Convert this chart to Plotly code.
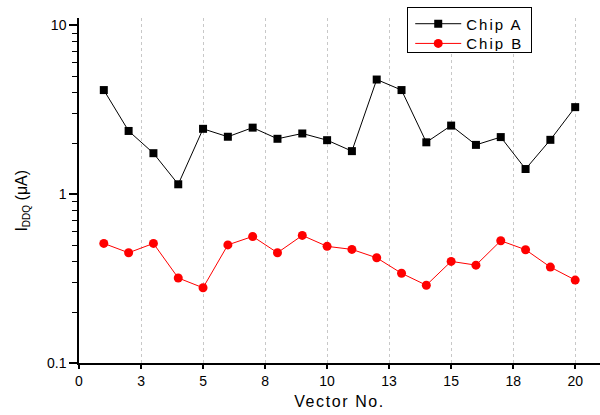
import plotly.graph_objects as go

vectors = list(range(1, 21))
chip_a = [4.14, 2.37, 1.75, 1.145, 2.44, 2.19, 2.48, 2.13, 2.29, 2.09,
          1.80, 4.78, 4.14, 2.03, 2.55, 1.96, 2.18, 1.41, 2.10, 3.28]
chip_b = [0.511, 0.450, 0.511, 0.319, 0.279, 0.501, 0.562, 0.450, 0.570, 0.491,
          0.471, 0.420, 0.340, 0.289, 0.400, 0.380, 0.530, 0.469, 0.370, 0.310]

x_tickvals = [0, 2.5, 5, 7.5, 10, 12.5, 15, 17.5, 20]
x_ticktext = ["0", "3", "5", "8", "10", "13", "15", "18", "20"]
y_tickvals = [0.1, 1, 10]
y_ticktext = ["0.1", "1", "10"]

font = "Liberation Sans, Arial, sans-serif"

fig = go.Figure()
fig.add_trace(go.Scatter(
    x=vectors, y=chip_a, name="Chip A", mode="lines+markers",
    line=dict(color="black", width=1),
    marker=dict(symbol="square", size=8, color="black"),
))
fig.add_trace(go.Scatter(
    x=vectors, y=chip_b, name="Chip B", mode="lines+markers",
    line=dict(color="#ff0000", width=1),
    marker=dict(symbol="circle", size=9, color="#ff0000"),
))

fig.add_annotation(
    text="I<sub><span style='font-size:10px'>DDQ</span></sub> (μA)",
    xref="paper", yref="paper", x=-0.108, y=0.47,
    xanchor="center", yanchor="middle", textangle=-90,
    showarrow=False, font=dict(size=16),
)

fig.update_layout(
    width=600, height=415,
    margin=dict(l=79, r=0, t=18, b=52),
    paper_bgcolor="white", plot_bgcolor="white",
    font=dict(family=font, size=14, color="black"),
    legend=dict(
        x=0.63, y=1.032, xanchor="left", yanchor="top",
        bordercolor="black", borderwidth=1, bgcolor="white",
        font=dict(size=15), tracegroupgap=0, itemwidth=48,
    ),
    xaxis=dict(
        range=[0, 21], tickmode="array", tickvals=x_tickvals, ticktext=x_ticktext,
        ticks="outside", ticklen=4, tickwidth=1.5, tickcolor="black",
        showline=True, linecolor="black", linewidth=1.5,
        showgrid=True, gridcolor="#c8c8c8", griddash="dot", gridwidth=1,
        zeroline=False,
        title=dict(text="Vector No.", font=dict(size=16), standoff=8),
        automargin=False,
    ),
    yaxis=dict(
        type="log", range=[-1, 1.044], tickmode="array",
        tickvals=y_tickvals, ticktext=y_ticktext,
        ticks="outside", ticklen=8, tickwidth=1.5, tickcolor="black",
        minor=dict(dtick="D1", ticks="outside", ticklen=5, tickcolor="black",
                   tickwidth=1.2, showgrid=False),
        showline=True, linecolor="black", linewidth=1.5,
        showgrid=False, zeroline=False,
        automargin=False,
    ),
)

post = """
document.body.style.margin = '0';
var gd = document.getElementById('{plot_id}');
function fixText() {
  gd.querySelectorAll('.legendtext').forEach(function(t){ t.setAttribute('letter-spacing', '2px'); });
  gd.querySelectorAll('.xtitle').forEach(function(t){ t.setAttribute('letter-spacing', '1.6px'); });
  var bg = gd.querySelector('g.legend rect.bg');
  if (bg) { bg.setAttribute('width', '124'); bg.setAttribute('height', '45'); }
  gd.querySelectorAll('clipPath').forEach(function(c){
    if (c.id.indexOf('legend') === 0) {
      var r = c.querySelector('rect');
      if (r) { r.setAttribute('width', '122'); r.setAttribute('height', '43'); }
    }
  });
  var items = gd.querySelectorAll('g.legend g.traces');
  if (items.length > 1) {
    var m0 = /translate\\(([-\\d.e]+)[ ,]+([-\\d.e]+)\\)/.exec(items[0].getAttribute('transform') || '');
    if (m0) {
      var x0 = parseFloat(m0[1]), y0 = parseFloat(m0[2]) - 0.5;
      items.forEach(function(it, i){ it.setAttribute('transform', 'translate(' + x0 + ',' + (y0 + i * 19.7) + ')'); });
    }
  }
  gd.querySelectorAll('g.legend .legendlines path').forEach(function(p){ p.setAttribute('d', 'M7,0h46'); });
  gd.querySelectorAll('g.legend .legendpoints path.scatterpts').forEach(function(p){ p.setAttribute('transform', 'translate(30,0)'); });
}
fixText();
gd.on('plotly_afterplot', fixText);
"""

fig.write_html("out.html", post_script=post, config={"displayModeBar": False})
